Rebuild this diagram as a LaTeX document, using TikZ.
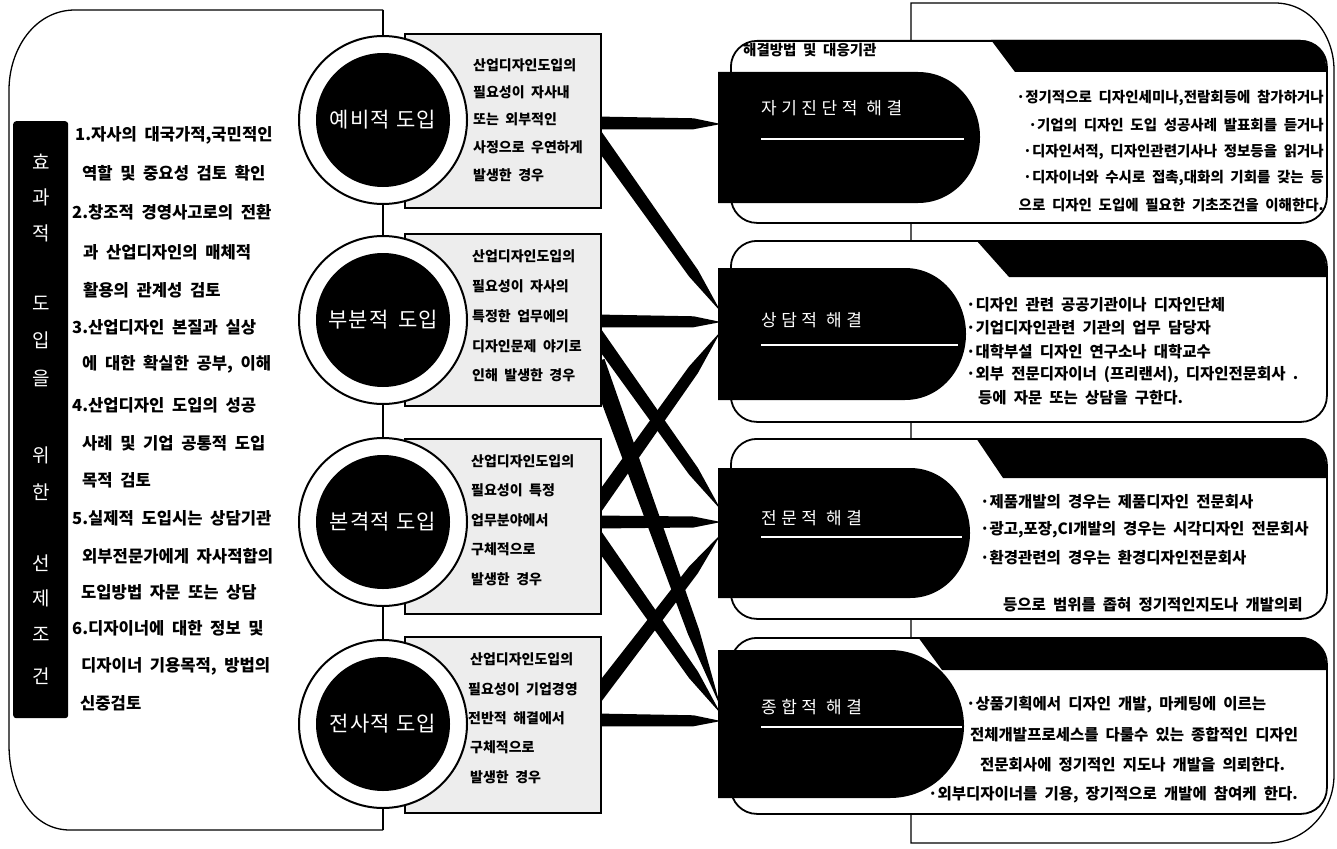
\documentclass[tikz,border=0pt]{standalone}
\usepackage{fontspec}
\newfontfamily\kr{Noto Sans CJK KR}
\newfontfamily\krw{Noto Sans CJK KR}[WordSpace=2]
\newfontfamily\krc{Noto Sans CJK KR}[LetterSpace=6]
\usetikzlibrary{calc}
\newcommand\wedgeconn[4]{%
  \coordinate (wm) at ($(#1)!0.78!(#2)$);
  \fill ($(#1)!#3!90:(#2)$) -- ($(wm)!#4!90:(#2)$) -- (#2) -- ($(wm)!#4!-90:(#2)$) -- ($(#1)!#3!-90:(#2)$) -- cycle;}
\newcommand\lsp{\hspace{4.5pt}}
\tikzset{
  frame/.style={draw=black, line width=1.3pt},
  gbox/.style={draw=black, line width=1.8pt, fill=gray!14, anchor=north west, minimum width=196pt, inner sep=0},
  ring/.style={circle, draw=black, line width=2pt, fill=white, minimum size=168pt, inner sep=0},
  disk/.style={circle, fill=black, minimum size=134pt, inner sep=0},
  ctext/.style={text=white, inner sep=0, font=\krc\fontsize{21}{21}\selectfont},
  btext/.style={anchor=west, inner sep=0, font=\krw\bfseries\fontsize{14}{14}\selectfont},
  ltext/.style={anchor=west, inner sep=0, font=\krw\bfseries\fontsize{16.6}{16.6}\selectfont},
  vtext/.style={text=white, inner sep=0, font=\kr\fontsize{19}{19}\selectfont},
  panel/.style={draw=black, line width=1.8pt, fill=white, rounded corners=26pt, anchor=north west, minimum width=596pt, inner sep=0},
  ptext/.style={anchor=west, inner sep=0, font=\krw\bfseries\fontsize{15.5}{15.5}\selectfont},
  petext/.style={anchor=east, inner sep=0, font=\krw\bfseries\fontsize{14.5}{14.5}\selectfont},
  labtext/.style={anchor=west, text=white, inner sep=0, font=\kr\fontsize{17}{17}\selectfont},
  labline/.style={draw=white, line width=2.5pt},
}
\begin{document}
\begin{tikzpicture}[x=1pt,y=-1pt]
\fill[white] (0,0) rectangle (1337,848);
\useasboundingbox (0,0) rectangle (1337,848);

% left frame
\draw[frame] (383,10) -- (75,10) to[out=180,in=90] (9,90) -- (9,745) to[out=-90,in=180] (70,830) -- (383,830);
\draw[frame] (383,10) -- (383,830);

% right frame
\draw[frame] (911,3) -- (1275,3) to[out=0,in=90] (1334,70) -- (1334,775) to[out=-90,in=0] (1268,843) -- (911,843) -- cycle;

% panels
\node[panel, minimum height=182pt] (p1) at (730,40) {};
\node[panel, minimum height=181pt] (p2) at (730,240) {};
\node[panel, minimum height=180pt] (p3) at (730,438) {};
\node[panel, minimum height=176pt] (p4) at (730,637) {};

% bands
\begin{scope}
\clip[rounded corners=26pt] (730,40) rectangle (1326,222);
\fill (991,40) -- (1330,40) -- (1330,72) -- (1015,72) -- cycle;
\end{scope}
\begin{scope}
\clip[rounded corners=26pt] (730,240) rectangle (1326,421);
\fill (976,240) -- (1330,240) -- (1330,277) -- (1009,277) -- cycle;
\end{scope}
\begin{scope}
\clip[rounded corners=26pt] (730,438) rectangle (1326,618);
\fill (976,438) -- (1330,438) -- (1330,478) -- (1003,478) -- cycle;
\end{scope}
\begin{scope}
\clip[rounded corners=26pt] (730,637) rectangle (1326,813);
\fill (918,637) -- (1330,637) -- (1330,670) -- (942,670) -- cycle;
\end{scope}

% connector end points
\coordinate (s1a) at (596,123); \coordinate (s1b) at (596,136);
\coordinate (s2a) at (596,321); \coordinate (s2b) at (596,334); \coordinate (s2c) at (596,362);
\coordinate (s3a) at (596,507); \coordinate (s3b) at (596,522); \coordinate (s3c) at (596,536);
\coordinate (s4a) at (596,697); \coordinate (s4b) at (596,720);
\coordinate (e1) at (721,124);
\coordinate (e2a) at (721,312); \coordinate (e2b) at (721,322); \coordinate (e2c) at (721,331);
\coordinate (e3a) at (721,510); \coordinate (e3b) at (721,522); \coordinate (e3c) at (721,534);
\coordinate (e4a) at (721,708); \coordinate (e4b) at (721,714); \coordinate (e4c) at (721,721);

\wedgeconn{s1a}{e1}{6.5pt}{5.5pt}
\wedgeconn{s1b}{e2a}{7pt}{5.5pt}
\wedgeconn{s2a}{e2b}{6.5pt}{5.5pt}
\wedgeconn{s2b}{e3a}{7pt}{5.5pt}
\wedgeconn{s2c}{e4a}{9pt}{6pt}
\wedgeconn{s3a}{e2c}{7pt}{5.5pt}
\wedgeconn{s3b}{e3b}{6.5pt}{5.5pt}
\wedgeconn{s3c}{e4b}{7pt}{5.5pt}
\wedgeconn{s4a}{e3c}{7pt}{5.5pt}
\wedgeconn{s4b}{e4c}{6.5pt}{5.5pt}

% grey boxes
\node[gbox, minimum height=174pt] (b1) at (404,33) {};
\node[gbox, minimum height=172pt] (b2) at (404,233) {};
\node[gbox, minimum height=175pt] (b3) at (404,438) {};
\node[gbox, minimum height=176pt] (b4) at (404,636) {};

% left bar
\node[fill=black, rounded corners=3pt, minimum width=55pt, minimum height=597pt, anchor=north west, inner sep=0] (bar) at (13,121) {};
\foreach \ch/\yy in {효/162, 과/197, 적/233, 도/303, 입/340, 을/378, 위/455, 한/492, 선/563, 제/598, 조/634, 건/676}
  \node[vtext] (v\yy) at (41,\yy) {\ch};

% left list
\node[ltext] (l1) at (75,135) {1.자사의 대국가적,국민적인};
\node[ltext] (l2) at (82,173) {역할 및 중요성 검토 확인};
\node[ltext] (l3) at (72,212) {2.창조적 경영사고로의 전환};
\node[ltext] (l4) at (83,252) {과 산업디자인의 매체적};
\node[ltext] (l5) at (83,290) {활용의 관계성 검토};
\node[ltext] (l6) at (72,327) {3.산업디자인 본질과 실상};
\node[ltext] (l7) at (82,364) {에 대한 확실한 공부, 이해};
\node[ltext] (l8) at (72,405) {4.산업디자인 도입의 성공};
\node[ltext] (l9) at (82,443) {사례 및 기업 공통적 도입};
\node[ltext] (l10) at (82,480) {목적 검토};
\node[ltext] (l11) at (72,518) {5.실제적 도입시는 상담기관};
\node[ltext] (l12) at (82,556) {외부전문가에게 자사적합의};
\node[ltext] (l13) at (81,592) {도입방법 자문 또는 상담};
\node[ltext] (l14) at (72,628) {6.디자이너에 대한 정보 및};
\node[ltext] (l15) at (81,666) {디자이너 기용목적, 방법의};
\node[ltext] (l16) at (80,703) {신중검토};

% circles
\node[ring] (c1) at (383,120) {}; \node[disk] (d1) at (c1) {}; \node[ctext] (c1t) at (c1) {예비적 도입};
\node[ring] (c2) at (383,320) {}; \node[disk] (d2) at (c2) {}; \node[ctext] (c2t) at (c2) {부분적 \,도입};
\node[ring] (c3) at (383,522) {}; \node[disk] (d3) at (c3) {}; \node[ctext] (c3t) at (c3) {본격적 도입};
\node[ring] (c4) at (383,724) {}; \node[disk] (d4) at (c4) {}; \node[ctext] (c4t) at (c4) {전사적 도입};

% box texts
\node[btext] (t11) at (473,65) {산업디자인도입의};
\node[btext] (t12) at (473,92) {필요성이 자사내};
\node[btext] (t13) at (473,119) {또는 외부적인};
\node[btext] (t14) at (473,147) {사정으로 우연하게};
\node[btext] (t15) at (473,175) {발생한 경우};
\node[btext] (t21) at (472,256) {산업디자인도입의};
\node[btext] (t22) at (472,286) {필요성이 자사의};
\node[btext] (t23) at (472,316) {특정한 업무에의};
\node[btext] (t24) at (472,346) {디자인문제 야기로};
\node[btext] (t25) at (472,375) {인해 발생한 경우};
\node[btext] (t31) at (471,461) {산업디자인도입의};
\node[btext] (t32) at (471,490) {필요성이 특정};
\node[btext] (t33) at (471,520) {업무분야에서};
\node[btext] (t34) at (471,549) {구체적으로};
\node[btext] (t35) at (471,579) {발생한 경우};
\node[btext] (t41) at (470,659) {산업디자인도입의};
\node[btext] (t42) at (468,689) {필요성이 기업경영};
\node[btext] (t43) at (468,718) {전반적 해결에서};
\node[btext] (t44) at (470,747) {구체적으로};
\node[btext] (t45) at (470,777) {발생한 경우};

% labels
\fill (718,72) -- (918,72) to[out=0,in=90] (980,137) to[out=-90,in=0] (918,203) -- (718,203) -- cycle;
\fill (718,268) -- (905,268) to[out=0,in=90] (966,334) to[out=-90,in=0] (905,400) -- (718,400) -- cycle;
\fill (718,468) -- (910,468) to[out=0,in=90] (970,533) to[out=-90,in=0] (910,598) -- (718,598) -- cycle;
\fill (718,650) -- (890,650) to[out=0,in=90] (964,726) to[out=-90,in=0] (890,798) -- (718,798) -- cycle;
\node[labtext] (lab1) at (761,108) {자\lsp 기\lsp 진\lsp 단\lsp 적\lsp\lsp 해\lsp 결};
\draw[labline] (761,139) -- (964,139);
\node[labtext] (lab2) at (761,320) {상\lsp 담\lsp 적\lsp\lsp 해\lsp 결};
\draw[labline] (761,345) -- (958,345);
\node[labtext] (lab3) at (761,518) {전\lsp 문\lsp 적\lsp\lsp 해\lsp 결};
\draw[labline] (761,537) -- (962,537);
\node[labtext] (lab4) at (761,707) {종\lsp 합\lsp 적\lsp\lsp 해\lsp 결};
\draw[labline] (761,727) -- (962,727);

% panel texts
\node[anchor=west, inner sep=0, font=\krw\bfseries\fontsize{14.5}{14.5}\selectfont] (title) at (743,50) {해결방법 및 대응기관};
\node[petext] (q11) at (1324,98) {·정기적으로 디자인세미나,전람회등에 참가하거나};
\node[petext] (q12) at (1324,125) {·기업의 디자인 도입 성공사례 발표회를 듣거나};
\node[petext] (q13) at (1324,152) {·디자인서적, 디자인관련기사나 정보등을 읽거나};
\node[petext] (q14) at (1324,178) {·디자이너와 수시로 접촉,대화의 기회를 갖는 등};
\node[petext] (q15) at (1324,205) {으로 디자인 도입에 필요한 기초조건을 이해한다.};

\node[ptext] (q21) at (966,305) {·디자인 관련 공공기관이나 디자인단체};
\node[ptext] (q22) at (966,328) {·기업디자인관련 기관의 업무 담당자};
\node[ptext] (q23) at (966,352) {·대학부설 디자인 연구소나 대학교수};
\node[ptext] (q24) at (966,375) {·외부 전문디자이너 (프리랜서), 디자인전문회사 .};
\node[ptext] (q25) at (978,398) {등에 자문 또는 상담을 구한다.};

\node[ptext] (q31) at (980,502) {·제품개발의 경우는 제품디자인 전문회사};
\node[ptext] (q32) at (980,530) {·광고,포장,CI개발의 경우는 시각디자인 전문회사};
\node[ptext] (q33) at (980,558) {·환경관련의 경우는 환경디자인전문회사};
\node[ptext] (q34) at (1003,605) {등으로 범위를 좁혀 정기적인지도나 개발의뢰};

\node[ptext] (q41) at (966,705) {·상품기획에서 디자인 개발, 마케팅에 이르는};
\node[ptext] (q42) at (970,735) {전체개발프로세스를 다룰수 있는 종합적인 디자인};
\node[ptext] (q43) at (980,765) {전문회사에 정기적인 지도나 개발을 의뢰한다.};
\node[ptext] (q44) at (928,795) {·외부디자이너를 기용, 장기적으로 개발에 참여케 한다.};
\end{tikzpicture}
\end{document}
